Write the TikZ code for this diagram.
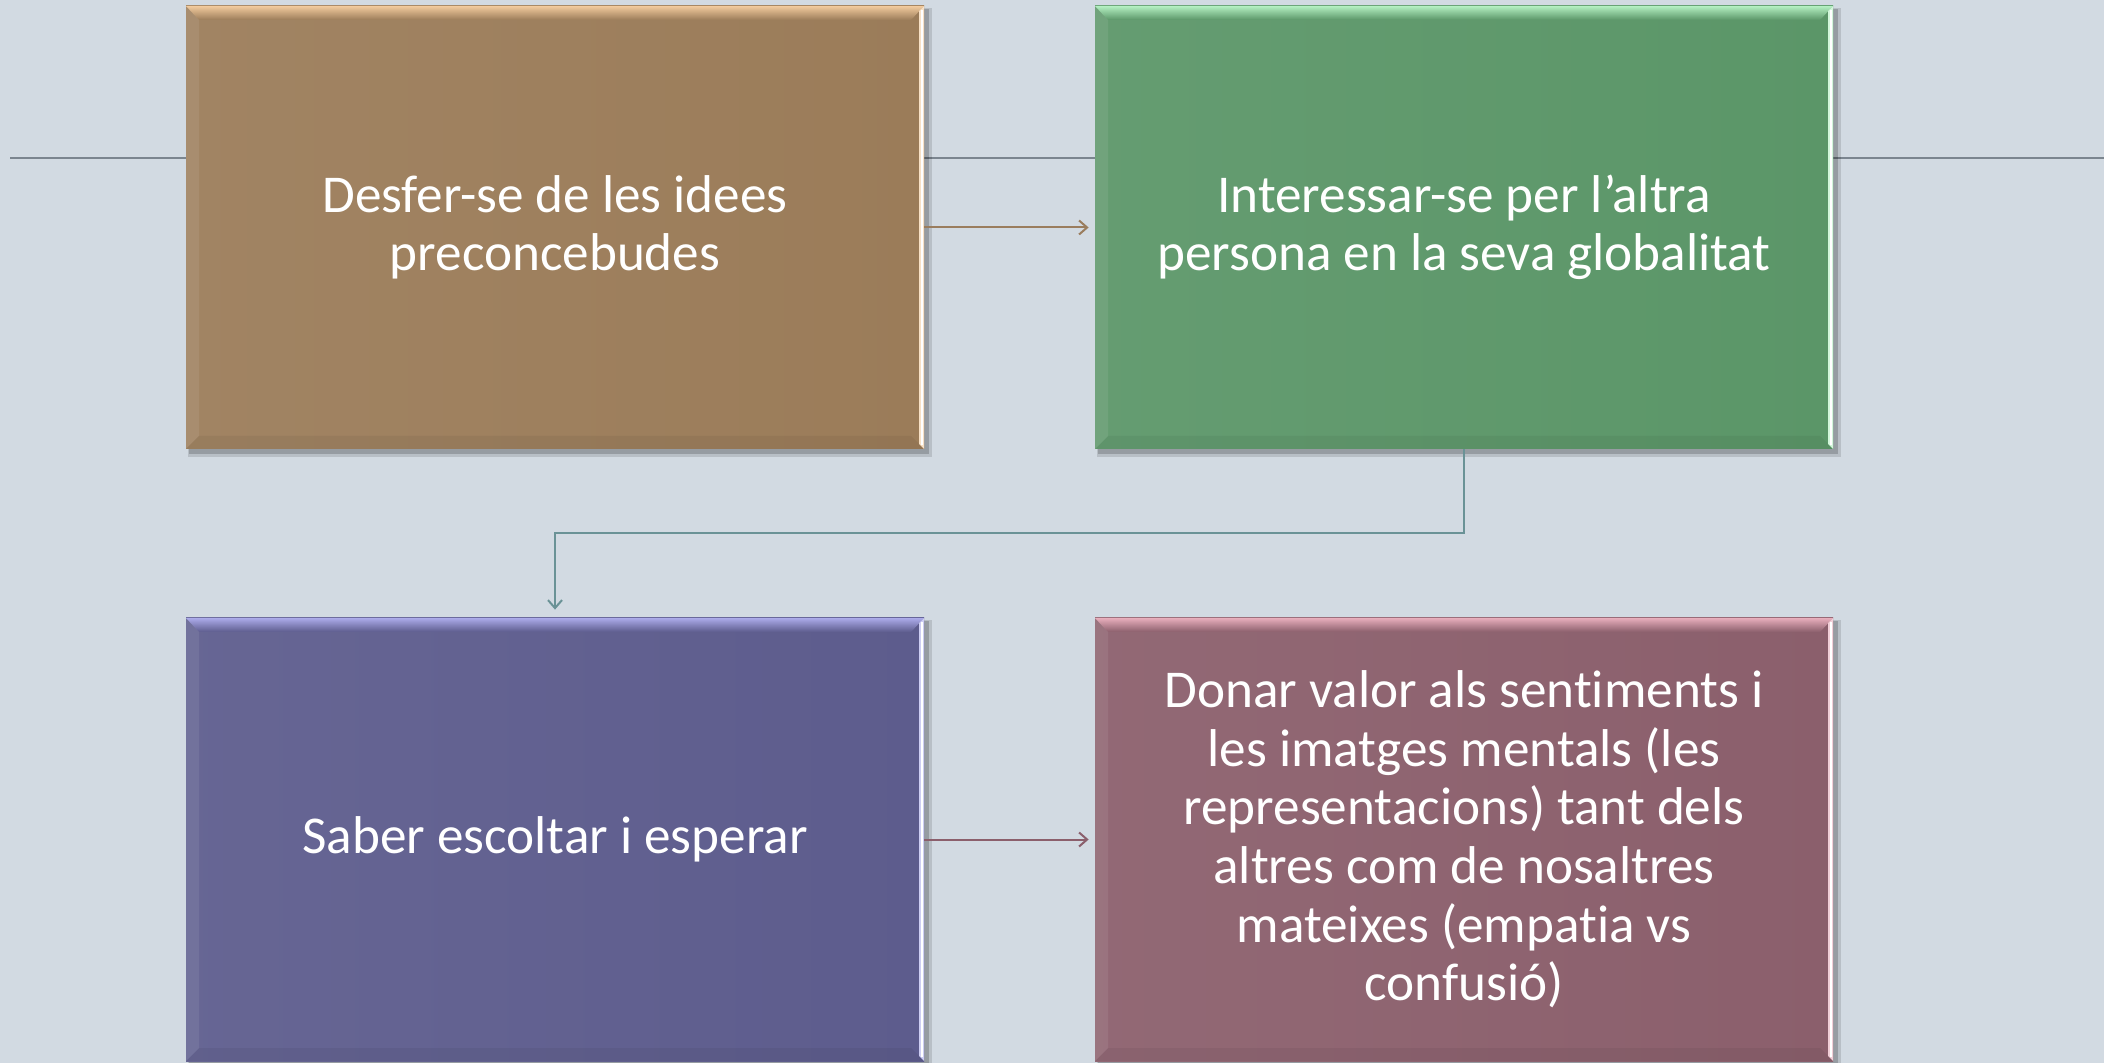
\documentclass[tikz,border=0pt]{standalone}
\usepackage{fontspec}
\setmainfont{Carlito}[Ligatures=NoCommon]
\usetikzlibrary{arrows.meta}
\definecolor{bg}{HTML}{D2DAE2}
\definecolor{brownb}{HTML}{9B7C59}
\definecolor{brownl}{HTML}{F2CB9E}
\definecolor{greenb}{HTML}{5B9668}
\definecolor{greenl}{HTML}{B4F0C2}
\definecolor{purpb}{HTML}{5D5C8D}
\definecolor{purpl}{HTML}{ACABEA}
\definecolor{mauveb}{HTML}{8B5F6C}
\definecolor{mauvel}{HTML}{E8AEBC}
\definecolor{lineg}{HTML}{7B858F}
\definecolor{arrbrown}{HTML}{9A7D5E}
\definecolor{arrteal}{HTML}{6A9296}
\definecolor{arrmauve}{HTML}{8B5F6C}
\tikzset{
  boxtext/.style={inner sep=0pt, minimum width=369pt, minimum height=221.5pt,
    text=white, align=center, font=\fontsize{26.6}{29.3}\selectfont},
  conn/.style={line width=1pt, -{Straight Barb[length=4pt,width=7pt,line width=1pt]}, shorten >=3pt},
}
\newcommand\bevelbox[8]{%
  \fill[black,opacity=0.12] (#2+2,#3+2) rectangle (#4+8,#5+8);
  \fill[black,opacity=0.18] (#2+3,#3+3) rectangle (#4+5,#5+5);
  \shade[left color=#6!94!white, right color=#6] (#2,#3) rectangle (#4,#5);
  \shade[top color=#7, bottom color=#6] (#2,#3) -- (#4,#3) -- (#4-13,#3+14) -- (#2+13,#3+14) -- cycle;
  \fill[white,opacity=0.08] (#2,#3) -- (#2+13,#3+14) -- (#2+13,#5-13) -- (#2,#5) -- cycle;
  \fill[black,opacity=0.05] (#2,#5) -- (#2+13,#5-13) -- (#4-13,#5-13) -- (#4,#5) -- cycle;
  \fill[#7!60!white] (#4-5,#3+5) -- (#4,#3) -- (#4,#5) -- (#4-5,#5-5) -- cycle;
  \fill[white] (#4-3,#3+4) rectangle (#4-1,#5-4);
  \node[boxtext] (#1) at ({(#2+#4)/2},{(#3+#5)/2}) {#8};
}
\begin{document}
\begin{tikzpicture}[x=0.5pt,y=-0.5pt]
\fill[bg] (0,0) rectangle (2104,1063);
\useasboundingbox (0,0) rectangle (2104,1063);
\coordinate (lstart) at (10,158);
\coordinate (lend) at (2104,158);
\draw[lineg, line width=0.8pt] (lstart) -- (lend);
\bevelbox{b1}{186}{6}{924}{449}{brownb}{brownl}{Desfer-se de les idees\\preconcebudes}
\bevelbox{b2}{1095}{6}{1833}{449}{greenb}{greenl}{Interessar-se per l’altra\\persona en la seva globalitat}
\bevelbox{b3}{186}{618}{924}{1061}{purpb}{purpl}{Saber escoltar i esperar}
\bevelbox{b4}{1095}{618}{1833}{1061}{mauveb}{mauvel}{Donar valor als sentiments i\\les imatges mentals (les\\representacions) tant dels\\altres com de nosaltres\\mateixes (empatia vs\\confusió)}
\draw[conn, arrbrown] (b1.east) -- (b2.west);
\draw[conn, arrmauve] (b3.east) -- (b4.west);
\draw[conn, arrteal, shorten >=4pt] (b2.south) -- ++(0,84) -| (b3.north);
\end{tikzpicture}
\end{document}
